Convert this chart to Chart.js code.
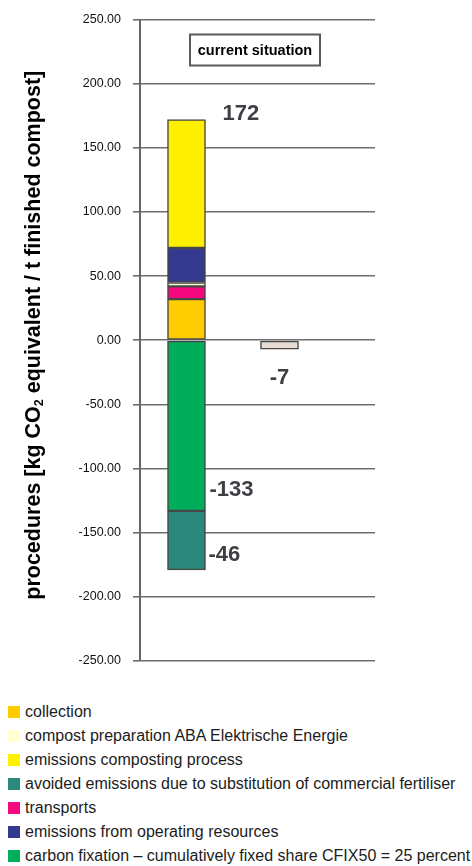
<!DOCTYPE html>
<html>
<head>
<meta charset="utf-8">
<title>Greenhouse gas balance of composting</title>
<script src="https://cdn.jsdelivr.net/npm/chart.js@4/dist/chart.umd.min.js"></script>
<style>
  html, body { margin: 0; padding: 0; background: #fff; }
  #wrap { position: relative; width: 472px; height: 866px; font-family: "Liberation Sans", Arial, sans-serif; }
  #chart { position: absolute; left: 0; top: 0; }
  #legend { position: absolute; left: 8px; top: 700px; margin: 0; padding: 0; list-style: none; }
  #legend li { height: 24px; line-height: 24px; font-size: 16px; color: #1c1c1c; display: flex; align-items: center; white-space: nowrap; }
  #legend .sw { width: 12px; height: 12px; margin-right: 5px; flex: none; }
</style>
</head>
<body>
<div id="wrap">
  <canvas id="chart" width="472" height="690"></canvas>
  <ul id="legend"></ul>
</div>
<script>
// Bars: the composting process and its net result (kg CO2 equivalent per t finished compost)
const categories = ['current situation', 'net result'];

// emissions (stacked upwards from zero, bottom to top)
const collection          = [32, null];
const transports          = [10, null];
const compostPreparation  = [3, null];
const operatingResources  = [27, null];
const compostingEmissions = [100, null];

// credits (stacked downwards from zero)
const carbonFixation      = [-133, null];
const avoidedFertiliser   = [-46, null];

// balance of emissions and credits
const netResult           = [null, -7];

// value axis
const yMin = -250;
const yMax = 250;
const yStep = 50;

const FONT = '"Liberation Sans", Arial, sans-serif';

const series = [
  { key: 'collection', label: 'collection', values: collection, color: '#FFCC00' },
  { key: 'transports', label: 'transports', values: transports, color: '#F5087E' },
  { key: 'prep', label: 'compost preparation ABA Elektrische Energie', values: compostPreparation, color: '#FFFFD2' },
  { key: 'resources', label: 'emissions from operating resources', values: operatingResources, color: '#343B8E' },
  { key: 'process', label: 'emissions composting process', values: compostingEmissions, color: '#FFF000' },
  { key: 'fixation', label: 'carbon fixation \u2013 cumulatively fixed share CFIX50 = 25 percent', values: carbonFixation, color: '#00AD5B' },
  { key: 'fertiliser', label: 'avoided emissions due to substitution of commercial fertiliser', values: avoidedFertiliser, color: '#2A897A' },
  { key: 'net', label: 'net result', values: netResult, color: '#E6DCD3' }
];

// order of the entries in the key below the chart
const legendOrder = ['collection', 'prep', 'process', 'fertiliser', 'transports', 'resources', 'fixation'];

const datasets = series.map(s => ({
  label: s.label,
  key: s.key,
  data: s.values.map((v, i) => ({ x: i + 0.5, y: v })),
  backgroundColor: s.color,
  borderColor: '#474747',
  borderWidth: 1.5,
  borderSkipped: false,
  barThickness: 38
}));

function meta(chart, key) {
  const idx = chart.data.datasets.findIndex(d => d.key === key);
  return chart.getDatasetMeta(idx);
}

const annotations = {
  id: 'annotations',
  afterDatasetsDraw(chart) {
    const ctx = chart.ctx;
    const area = chart.chartArea;
    ctx.save();

    // caption box
    const bx = area.left + 50, by = area.top + 15, bw = 130, bh = 31;
    ctx.fillStyle = '#fff';
    ctx.fillRect(bx, by, bw, bh);
    ctx.strokeStyle = '#5a5a5a';
    ctx.lineWidth = 2;
    ctx.strokeRect(bx, by, bw, bh);
    ctx.fillStyle = '#000';
    ctx.font = 'bold 14.5px ' + FONT;
    ctx.textAlign = 'center';
    ctx.textBaseline = 'middle';
    ctx.fillText(categories[0], bx + bw / 2, by + bh / 2 + 1);

    // value labels
    ctx.fillStyle = '#3e3e44';
    ctx.font = 'bold 22px ' + FONT;
    ctx.textBaseline = 'middle';

    const emissionsTotal = collection[0] + transports[0] + compostPreparation[0] +
                           operatingResources[0] + compostingEmissions[0];
    const top = meta(chart, 'process').data[0];
    ctx.textAlign = 'left';
    ctx.fillText(String(emissionsTotal), top.x + top.width / 2 + 17, top.y - 6);

    const fix = meta(chart, 'fixation').data[0];
    ctx.fillText(String(carbonFixation[0]), fix.x + fix.width / 2 + 4, fix.y - 21);

    const fert = meta(chart, 'fertiliser').data[0];
    ctx.fillText(String(avoidedFertiliser[0]), fert.x + fert.width / 2 + 3, fert.y - 15);

    const net = meta(chart, 'net').data[1];
    ctx.textAlign = 'center';
    ctx.fillText(String(netResult[1]), net.x, net.y + 29);

    ctx.restore();
  },
  afterDraw(chart) {
    // rotated value-axis title with a subscript 2
    const ctx = chart.ctx;
    const area = chart.chartArea;
    const parts = [
      { t: 'procedures [kg CO', f: 'bold 21.5px ' + FONT, dy: 0 },
      { t: '2', f: 'bold 12.5px ' + FONT, dy: 6 },
      { t: ' equivalent / t finished compost]', f: 'bold 21.5px ' + FONT, dy: 0 }
    ];
    ctx.save();
    let total = 0;
    parts.forEach(p => { ctx.font = p.f; p.w = ctx.measureText(p.t).width; total += p.w; });
    ctx.translate(33, (area.top + area.bottom) / 2 - 5);
    ctx.rotate(-Math.PI / 2);
    ctx.fillStyle = '#000';
    ctx.textBaseline = 'middle';
    ctx.textAlign = 'left';
    let x = -total / 2;
    parts.forEach(p => { ctx.font = p.f; ctx.fillText(p.t, x, p.dy + 1); x += p.w; });
    ctx.restore();
  }
};

new Chart(document.getElementById('chart'), {
  type: 'bar',
  data: { datasets },
  options: {
    responsive: false,
    animation: false,
    layout: { padding: { left: 0, right: 97, top: 17, bottom: 29 } },
    plugins: { legend: { display: false }, tooltip: { enabled: false } },
    scales: {
      x: {
        type: 'linear', min: 0, max: 2.527, stacked: true, display: false,
        offset: false, grid: { offset: false }
      },
      y: {
        stacked: true,
        min: yMin,
        max: yMax,
        ticks: {
          stepSize: yStep,
          callback: v => Number(v).toFixed(2),
          font: { family: FONT, size: 12.5 },
          color: '#111',
          padding: 12
        },
        grid: { color: '#6e6e6e', lineWidth: 1.6, tickLength: 7 },
        border: { color: '#666', width: 2 },
        afterFit(scale) { scale.width = 140; }
      }
    }
  },
  plugins: [annotations]
});

// key below the chart
const legendEl = document.getElementById('legend');
legendOrder.forEach(k => {
  const s = series.find(d => d.key === k);
  const li = document.createElement('li');
  const sw = document.createElement('span');
  sw.className = 'sw';
  sw.style.background = s.color;
  li.appendChild(sw);
  li.appendChild(document.createTextNode(s.label));
  legendEl.appendChild(li);
});
</script>
</body>
</html>
